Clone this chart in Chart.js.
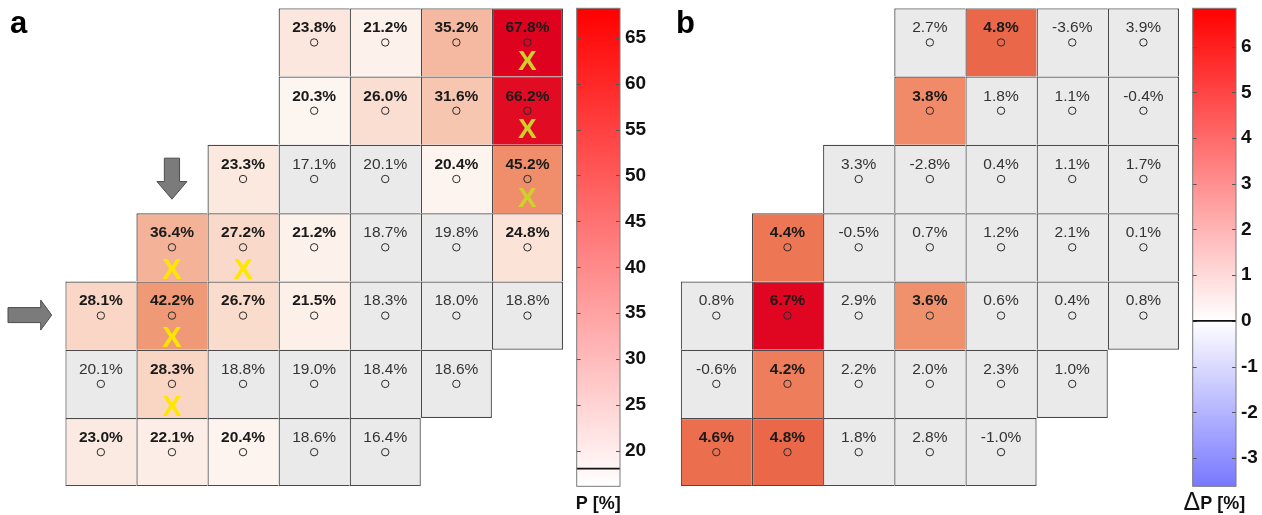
<!DOCTYPE html>
<html>
<head>
<meta charset="utf-8">
<script src="https://cdn.jsdelivr.net/npm/chart.js@4.4.1/dist/chart.umd.min.js"></script>
<style>
  html, body { margin: 0; padding: 0; background: #fff; }
  #wrap { position: relative; width: 1262px; height: 515px; overflow: hidden; }
  #wrap canvas { position: absolute; top: 0; }
</style>
</head>
<body>
<div id="wrap">
  <canvas id="chartA" width="660" height="515" style="left:0px"></canvas>
  <canvas id="chartB" width="602" height="515" style="left:660px"></canvas>
</div>
<script>
// ---- data ---------------------------------------------------------------
const columns = ['1', '2', '3', '4', '5', '6', '7'];

// panel a: P [%] per cell, rows listed top to bottom
const pValues = [
  [null, null, null, 23.8, 21.2, 35.2, 67.8],
  [null, null, null, 20.3, 26.0, 31.6, 66.2],
  [null, null, 23.3, 17.1, 20.1, 20.4, 45.2],
  [null, 36.4, 27.2, 21.2, 18.7, 19.8, 24.8],
  [28.1, 42.2, 26.7, 21.5, 18.3, 18.0, 18.8],
  [20.1, 28.3, 18.8, 19.0, 18.4, 18.6, null],
  [23.0, 22.1, 20.4, 18.6, 16.4, null, null]
];
const pSignificant = [
  [0, 0, 0, 1, 1, 1, 1],
  [0, 0, 0, 1, 1, 1, 1],
  [0, 0, 1, 0, 0, 1, 1],
  [0, 1, 1, 1, 0, 0, 1],
  [1, 1, 1, 1, 0, 0, 0],
  [0, 1, 0, 0, 0, 0, 0],
  [1, 1, 1, 0, 0, 0, 0]
];
// 1 = yellow cross, 2 = olive cross
const pCrosses = [
  [0, 0, 0, 0, 0, 0, 2],
  [0, 0, 0, 0, 0, 0, 2],
  [0, 0, 0, 0, 0, 0, 2],
  [0, 1, 1, 0, 0, 0, 0],
  [0, 1, 0, 0, 0, 0, 0],
  [0, 1, 0, 0, 0, 0, 0],
  [0, 0, 0, 0, 0, 0, 0]
];
const pBarTicks = [20, 25, 30, 35, 40, 45, 50, 55, 60, 65];
const pBarRange = [16.15, 68.2];
const pBaseline = 18.08;

// panel b: change ΔP [%] per cell
const dValues = [
  [null, null, null, 2.7, 4.8, -3.6, 3.9],
  [null, null, null, 3.8, 1.8, 1.1, -0.4],
  [null, null, 3.3, -2.8, 0.4, 1.1, 1.7],
  [null, 4.4, -0.5, 0.7, 1.2, 2.1, 0.1],
  [0.8, 6.7, 2.9, 3.6, 0.6, 0.4, 0.8],
  [-0.6, 4.2, 2.2, 2.0, 2.3, 1.0, null],
  [4.6, 4.8, 1.8, 2.8, -1.0, null, null]
];
const dSignificant = [
  [0, 0, 0, 0, 1, 0, 0],
  [0, 0, 0, 1, 0, 0, 0],
  [0, 0, 0, 0, 0, 0, 0],
  [0, 1, 0, 0, 0, 0, 0],
  [0, 1, 0, 1, 0, 0, 0],
  [0, 1, 0, 0, 0, 0, 0],
  [1, 1, 0, 0, 0, 0, 0]
];
const dBarTicks = [-3, -2, -1, 0, 1, 2, 3, 4, 5, 6];
const dBarRange = [-3.62, 6.84];
const dBaseline = 0;

// ---- styling --------------------------------------------------------------
const FONT = "'Liberation Sans', Arial, Helvetica, sans-serif";
const GRAY = '#eaeaea';
const CELL_STOPS = [
  [0.00, [255, 250, 247]],
  [0.05, [253, 244, 238]],
  [0.11, [251, 232, 222]],
  [0.16, [250, 222, 208]],
  [0.20, [249, 214, 197]],
  [0.27, [247, 198, 177]],
  [0.34, [245, 184, 160]],
  [0.37, [244, 178, 152]],
  [0.48, [240, 153, 118]],
  [0.54, [240, 142, 107]],
  [0.64, [237, 119, 86]],
  [0.70, [234, 105, 73]],
  [0.85, [230, 55, 50]],
  [0.96, [225, 12, 36]],
  [1.00, [222, 0, 30]]
];

function cellColor(t) {
  t = Math.max(0, Math.min(1, t));
  for (let i = 1; i < CELL_STOPS.length; i++) {
    const [t1, c1] = CELL_STOPS[i];
    const [t0, c0] = CELL_STOPS[i - 1];
    if (t <= t1) {
      const f = (t - t0) / (t1 - t0);
      const c = c0.map((v, k) => Math.round(v + (c1[k] - v) * f));
      return `rgb(${c[0]},${c[1]},${c[2]})`;
    }
  }
  return 'rgb(222,0,30)';
}

function buildCells(values, significant, colorOf) {
  const n = values.length;
  const has = (r, c) => r >= 0 && r < n && c >= 0 && c < values[r].length && values[r][c] !== null;
  const w = 1.25;
  const cells = [];
  values.forEach((row, r) => row.forEach((v, c) => {
    if (v === null) return;
    const sig = !!significant[r][c];
    cells.push({
      x: columns[c], y: [r, r + 1], row: r, col: c, value: v, sig,
      color: sig ? colorOf(v) : GRAY,
      border: { top: w, left: w, right: has(r, c + 1) ? 0 : w, bottom: has(r + 1, c) ? 0 : w }
    });
  }));
  return cells;
}

function drawArrow(ctx, pts) {
  ctx.save();
  ctx.beginPath();
  pts.forEach(([x, y], i) => (i ? ctx.lineTo(x, y) : ctx.moveTo(x, y)));
  ctx.closePath();
  ctx.fillStyle = '#7b7b7b';
  ctx.fill();
  ctx.strokeStyle = '#4d4d4d';
  ctx.lineWidth = 1;
  ctx.stroke();
  ctx.restore();
}

function makePanel(canvasId, cfg) {
  const cells = buildCells(cfg.values, cfg.significant, cfg.colorOf);

  const panelPlugin = {
    id: 'panelDecor',
    afterDraw(chart) {
      const { ctx, chartArea, scales } = chart;
      const xs = scales.x, ys = scales.y, cb = scales.cb;
      const rowH = ys.getPixelForValue(1) - ys.getPixelForValue(0);

      // cell captions and crosses
      ctx.save();
      ctx.textAlign = 'center';
      ctx.textBaseline = 'alphabetic';
      cells.forEach(c => {
        const cx = xs.getPixelForValue(c.col);
        const top = ys.getPixelForValue(c.row);
        ctx.font = (c.sig ? 'bold ' : '') + '15.5px ' + FONT;
        ctx.fillStyle = c.sig ? '#1a1a1a' : '#333333';
        ctx.fillText(c.value.toFixed(1) + '%', cx, top + rowH * 0.352);
        const cross = cfg.crosses ? cfg.crosses[c.row][c.col] : 0;
        if (cross) {
          ctx.font = 'bold ' + (cross === 1 ? 29 : 28) + 'px ' + FONT;
          ctx.fillStyle = cross === 1 ? '#ffe600' : '#cfd12b';
          ctx.fillText('X', cx, top + rowH * (cross === 1 ? 0.966 : 0.905));
        }
      });
      ctx.restore();

      // colour bar
      const x0 = chartArea.right + 13.7, x1 = x0 + 43.3;
      const yTop = cb.getPixelForValue(cb.max), yBot = cb.getPixelForValue(cb.min);
      const grad = ctx.createLinearGradient(0, yTop, 0, yBot);
      cfg.barStops.forEach(([v, col]) => {
        grad.addColorStop((cb.max - v) / (cb.max - cb.min), col);
      });
      ctx.save();
      ctx.fillStyle = grad;
      ctx.fillRect(x0, yTop, x1 - x0, yBot - yTop);
      ctx.strokeStyle = '#555';
      ctx.lineWidth = 1;
      cfg.barTicks.forEach(v => {
        const y = Math.round(cb.getPixelForValue(v)) + 0.5;
        ctx.beginPath();
        ctx.moveTo(x0, y); ctx.lineTo(x0 + 4, y);
        ctx.moveTo(x1 - 4, y); ctx.lineTo(x1, y);
        ctx.stroke();
      });
      const yl = cb.getPixelForValue(cfg.baseline);
      ctx.strokeStyle = '#111';
      ctx.lineWidth = 1.6;
      ctx.beginPath(); ctx.moveTo(x0, yl); ctx.lineTo(x1, yl); ctx.stroke();
      ctx.strokeStyle = '#7a7a7a';
      ctx.lineWidth = 1;
      ctx.strokeRect(x0, yTop, x1 - x0, yBot - yTop);

      // colour bar caption
      const cxBar = (x0 + x1) / 2;
      ctx.textBaseline = 'alphabetic';
      ctx.fillStyle = '#111';
      const boldF = 'bold 18px ' + FONT;
      if (cfg.delta) {
        const deltaF = '25px ' + FONT;
        ctx.font = deltaF; const wd = ctx.measureText('\u0394').width;
        ctx.font = boldF; const wp = ctx.measureText('P [%]').width;
        const sx = cxBar - (wd + wp) / 2;
        ctx.font = deltaF; ctx.textAlign = 'left'; ctx.fillText('\u0394', sx, 510);
        ctx.font = boldF; ctx.fillText('P [%]', sx + wd, 509);
      } else {
        ctx.font = boldF; ctx.textAlign = 'center';
        ctx.fillText('P [%]', cxBar, 509);
      }

      // panel letter
      ctx.font = 'bold 31px ' + FONT;
      ctx.textAlign = 'left';
      ctx.fillStyle = '#000';
      ctx.fillText(cfg.letter, cfg.letterX, 33);

      // pointer arrows
      if (cfg.arrows) {
        const ax = xs.getPixelForValue(1);
        const tipY = ys.getPixelForValue(3) - 14;
        drawArrow(ctx, [
          [ax - 7.6, tipY - 41], [ax + 7.6, tipY - 41], [ax + 7.6, tipY - 17.6],
          [ax + 15, tipY - 17.6], [ax, tipY], [ax - 15, tipY - 17.6], [ax - 7.6, tipY - 17.6]
        ]);
        const ay = ys.getPixelForValue(4.5) - 0.5;
        const tipX = chartArea.left - 13.6;
        drawArrow(ctx, [
          [tipX - 43.7, ay - 7.5], [tipX - 11, ay - 7.5], [tipX - 11, ay - 15],
          [tipX, ay], [tipX - 11, ay + 15], [tipX - 11, ay + 7.5], [tipX - 43.7, ay + 7.5]
        ]);
      }
      ctx.restore();
    }
  };

  return new Chart(document.getElementById(canvasId), {
    type: 'bar',
    data: {
      labels: columns,
      datasets: [
        {
          type: 'line',
          order: 1,
          data: cells.map(c => ({ x: c.x, y: c.row + 0.5 })),
          showLine: false,
          pointRadius: 3.7,
          pointBorderWidth: 1,
          pointBorderColor: '#2a2a2a',
          pointBackgroundColor: 'rgba(0,0,0,0)',
          yAxisID: 'y'
        },
        {
          type: 'bar',
          order: 2,
          data: cells,
          backgroundColor: ctx => (ctx.raw ? ctx.raw.color : GRAY),
          borderColor: '#4a4a4a',
          borderWidth: ctx => (ctx.raw ? ctx.raw.border : 1),
          borderSkipped: false,
          inflateAmount: 0,
          barPercentage: 1,
          categoryPercentage: 1,
          yAxisID: 'y'
        }
      ]
    },
    options: {
      responsive: false,
      animation: false,
      events: [],
      layout: { padding: cfg.padding },
      plugins: { legend: { display: false }, tooltip: { enabled: false } },
      scales: {
        x: { type: 'category', display: false, offset: true },
        y: { type: 'linear', display: false, min: 0, max: 7, reverse: true },
        cb: {
          type: 'linear',
          position: 'right',
          display: true,
          min: cfg.barRange[0],
          max: cfg.barRange[1],
          // labels sit to the right of the colour bar box
          grid: { display: false, drawTicks: true, tickLength: 62 },
          border: { display: false },
          ticks: {
            padding: 0,
            color: '#111',
            font: { family: FONT, size: 19, weight: 'bold' },
            callback: v => String(v)
          },
          afterBuildTicks: s => { s.ticks = cfg.barTicks.map(v => ({ value: v })); },
          afterFit: s => { s.width = cfg.axisWidth; s.paddingTop = 0; s.paddingBottom = 0; }
        }
      }
    },
    plugins: [panelPlugin]
  });
}

// panel a
makePanel('chartA', {
  values: pValues,
  significant: pSignificant,
  crosses: pCrosses,
  colorOf: v => cellColor((v - pBaseline) / (pBarRange[1] - pBaseline)),
  barRange: pBarRange,
  barTicks: pBarTicks,
  baseline: pBaseline,
  barStops: [[pBarRange[1], 'rgb(255,0,0)'], [pBarRange[0], 'rgb(255,255,255)']],
  padding: { left: 65.3, top: 8.3, right: 0, bottom: 28.7 },
  axisWidth: 97,
  letter: 'a', letterX: 10,
  arrows: true,
  delta: false
});

// panel b
makePanel('chartB', {
  values: dValues,
  significant: dSignificant,
  crosses: null,
  colorOf: v => cellColor(v / dBarRange[1]),
  barRange: dBarRange,
  barTicks: dBarTicks,
  baseline: dBaseline,
  barStops: [[dBarRange[1], 'rgb(255,0,0)'], [dBaseline, 'rgb(255,255,255)'], [dBarRange[0], 'rgb(120,120,255)']],
  padding: { left: 20.7, top: 8.3, right: 0, bottom: 28.7 },
  axisWidth: 83,
  letter: 'b', letterX: 16,
  arrows: false,
  delta: true
});
</script>
</body>
</html>
